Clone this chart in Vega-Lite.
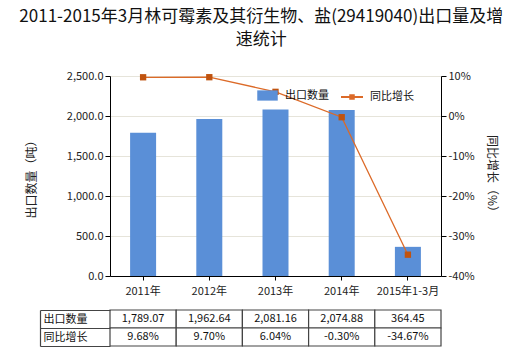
{
  "$schema": "https://vega.github.io/schema/vega-lite/v6.json",
  "padding": {"left": 19, "top": 8, "right": 5, "bottom": 5},
  "background": "white",
  "title": {
    "text": ["2011-2015年3月林可霉素及其衍生物、盐(29419040)出口量及增", "速统计"],
    "fontSize": 17,
    "fontWeight": "normal",
    "color": "#111111",
    "lineHeight": 23,
    "anchor": "middle",
    "offset": 21,
    "font": "Noto Sans CJK SC"
  },
  "config": {
    "font": "Noto Sans CJK SC",
    "view": {"stroke": null},
    "axis": {"labelFont": "Noto Sans CJK SC", "titleFont": "Noto Sans CJK SC"}
  },
  "datasets": {
    "main": [
      {"period": "2011年", "qty": 1789.07, "growth": 9.68},
      {"period": "2012年", "qty": 1962.64, "growth": 9.70},
      {"period": "2013年", "qty": 2081.16, "growth": 6.04},
      {"period": "2014年", "qty": 2074.88, "growth": -0.30},
      {"period": "2015年1-3月", "qty": 364.45, "growth": -34.67}
    ],
    "table": [
      {"col": "2011年", "row": "出口数量", "txt": "1,789.07"},
      {"col": "2012年", "row": "出口数量", "txt": "1,962.64"},
      {"col": "2013年", "row": "出口数量", "txt": "2,081.16"},
      {"col": "2014年", "row": "出口数量", "txt": "2,074.88"},
      {"col": "2015年1-3月", "row": "出口数量", "txt": "364.45"},
      {"col": "2011年", "row": "同比增长", "txt": "9.68%"},
      {"col": "2012年", "row": "同比增长", "txt": "9.70%"},
      {"col": "2013年", "row": "同比增长", "txt": "6.04%"},
      {"col": "2014年", "row": "同比增长", "txt": "-0.30%"},
      {"col": "2015年1-3月", "row": "同比增长", "txt": "-34.67%"}
    ]
  },
  "spacing": 8,
  "vconcat": [
    {
      "width": 331,
      "height": 200,
      "data": {"name": "main"},
      "encoding": {
        "x": {
          "field": "period",
          "type": "nominal",
          "sort": null,
          "scale": {"paddingInner": 0.6, "paddingOuter": 0.3},
          "axis": {
            "title": null,
            "labelAngle": 0,
            "labelFontSize": 11,
            "labelColor": "#222222",
            "labelPadding": 5,
            "domainColor": "#000000",
            "tickColor": "#000000",
            "tickSize": 4,
            "grid": false
          }
        }
      },
      "layer": [
        {
          "mark": {"type": "bar", "width": 26},
          "encoding": {
            "y": {
              "field": "qty",
              "type": "quantitative",
              "scale": {"domain": [0, 2500]},
              "axis": {
                "values": [0, 500, 1000, 1500, 2000, 2500],
                "format": ",.1f",
                "title": "出口数量（吨）",
                "titleFontSize": 12,
                "titleFontWeight": "normal",
                "titleColor": "#222222",
                "titlePadding": 28,
                "labelFontSize": 11,
                "labelColor": "#222222",
                "domainColor": "#000000",
                "tickColor": "#000000",
                "tickSize": 5,
                "grid": true,
                "gridColor": "#e6e4da",
                "gridWidth": 1
              }
            },
            "fill": {
              "datum": "出口数量",
              "scale": {"range": ["#5a8fd7"]},
              "legend": {
                "title": null,
                "orient": "none",
                "legendX": 147,
                "legendY": 9,
                "padding": 0,
                "symbolType": "M-1,-0.5H1V0.5H-1Z",
                "symbolSize": 420,
                "symbolStrokeWidth": 0,
                "labelFontSize": 11,
                "labelColor": "#111111",
                "labelOffset": 7
              }
            }
          }
        },
        {
          "mark": {"type": "line", "strokeWidth": 1.3},
          "encoding": {
            "y": {
              "field": "growth",
              "type": "quantitative",
              "scale": {"domain": [-40, 10]},
              "axis": {
                "orient": "right",
                "values": [-40, -30, -20, -10, 0, 10],
                "labelExpr": "datum.value + '%'",
                "title": "同比增长（%）",
                "titleFontSize": 12,
                "titleFontWeight": "normal",
                "titleColor": "#222222",
                "titlePadding": 10,
                "labelFontSize": 11,
                "labelColor": "#222222",
                "domainColor": "#000000",
                "tickColor": "#000000",
                "tickSize": 5,
                "grid": false
              }
            },
            "stroke": {
              "datum": "同比增长",
              "scale": {"range": ["#dc6a28"]},
              "legend": {
                "title": null,
                "orient": "none",
                "legendX": 230,
                "legendY": 9,
                "padding": 0,
                "symbolType": "M-1,0H1M-0.16,-0.16H0.16V0.16H-0.16Z",
                "symbolSize": 484,
                "symbolStrokeWidth": 2,
                "symbolFillColor": "#c0530f",
                "labelFontSize": 11,
                "labelColor": "#111111",
                "labelOffset": 6
              }
            }
          }
        },
        {
          "mark": {"type": "square", "size": 40, "color": "#c0530f", "opacity": 1, "filled": true},
          "encoding": {
            "y": {"field": "growth", "type": "quantitative", "scale": {"domain": [-40, 10]}, "axis": null}
          }
        }
      ],
      "resolve": {"scale": {"y": "independent"}}
    },
    {
      "width": 331,
      "height": 36,
      "data": {"name": "table"},
      "encoding": {
        "x": {
          "field": "col",
          "type": "nominal",
          "sort": null,
          "scale": {"paddingInner": 0, "paddingOuter": 0},
          "axis": null
        },
        "y": {
          "field": "row",
          "type": "nominal",
          "sort": null,
          "scale": {"domain": ["出口数量", "同比增长"], "paddingInner": 0, "paddingOuter": 0},
          "axis": {
            "orient": "left",
            "title": null,
            "offset": 70,
            "tickBand": "extent",
            "tickSize": -70,
            "tickColor": "#444444",
            "tickWidth": 1.2,
            "domainColor": "#444444",
            "domainWidth": 1.2,
            "grid": false,
            "labelAlign": "left",
            "labelBaseline": "middle",
            "labelPadding": 67,
            "labelFontSize": 11,
            "labelColor": "#111111"
          }
        }
      },
      "layer": [
        {
          "mark": {"type": "rect", "fill": "white", "stroke": "#444444", "strokeWidth": 1.2}
        },
        {
          "mark": {"type": "text", "fontSize": 11, "color": "#111111", "baseline": "middle"},
          "encoding": {"text": {"field": "txt"}}
        }
      ]
    }
  ]
}
